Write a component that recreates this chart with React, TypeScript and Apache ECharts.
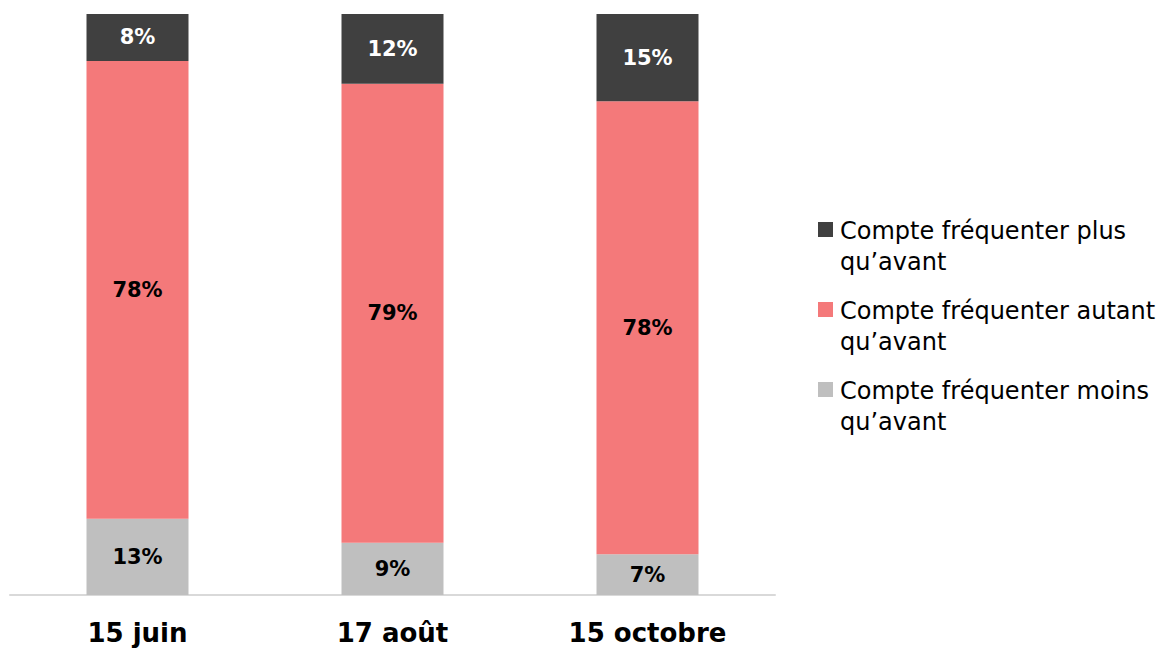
import React, { useEffect, useRef } from "react";
import * as echarts from "echarts";

const categories = ["15 juin", "17 août", "15 octobre"];
const seriesNames = [
  "Compte fréquenter moins qu’avant",
  "Compte fréquenter autant qu’avant",
  "Compte fréquenter plus qu’avant",
];
const moins = [13, 9, 7];
const autant = [78, 79, 78];
const plus = [8, 12, 15];
const colors = ["#BFBFBF", "#F4797A", "#404040"];
const labelColors = ["#000000", "#000000", "#FFFFFF"];
const legendLines = [
  ["Compte fréquenter plus", "qu’avant"],
  ["Compte fréquenter autant", "qu’avant"],
  ["Compte fréquenter moins", "qu’avant"],
];
const legendColors = ["#404040", "#F4797A", "#BFBFBF"];

const FONT = "DejaVu Sans";

export default function App() {
  const ref = useRef<HTMLDivElement>(null);
  useEffect(() => {
    if (!ref.current) return;
    const chart = echarts.init(ref.current, null, { renderer: "svg" });
    const raw = [moins, autant, plus];
    const totals = categories.map((_, i) => raw.reduce((s, arr) => s + arr[i], 0));
    const series = raw.map((arr, k) => ({
      name: seriesNames[k],
      type: "bar",
      stack: "total",
      barWidth: "40%",
      itemStyle: { color: colors[k] },
      data: arr.map((v, i) => ({ value: (v / totals[i]) * 100, raw: v })),
      label: {
        show: true,
        position: "inside",
        formatter: (p: any) => `${p.data.raw}%`,
        color: labelColors[k],
        fontFamily: FONT,
        fontWeight: "bold",
        fontSize: 21,
      },
    }));
    const graphic: any[] = [];
    legendLines.forEach((lines, i) => {
      const y0 = 222 + i * 80;
      graphic.push({
        type: "rect",
        left: 818,
        top: y0,
        shape: { width: 15, height: 15 },
        style: { fill: legendColors[i] },
      });
      graphic.push({
        type: "text",
        left: 840,
        top: y0 - 7,
        style: {
          text: lines.join("\n"),
          fill: "#000000",
          font: `24px '${FONT}'`,
          lineHeight: 31,
        },
      });
    });
    chart.setOption({
      animation: false,
      grid: { left: 10, right: 398, top: 14, bottom: 55, containLabel: false },
      xAxis: {
        type: "category",
        data: categories,
        axisLine: { show: true, lineStyle: { color: "#D9D9D9", width: 2 } },
        axisTick: { show: false },
        axisLabel: {
          color: "#000000",
          fontFamily: FONT,
          fontWeight: "bold",
          fontSize: 26,
          margin: 25,
        },
      },
      yAxis: {
        type: "value",
        min: 0,
        max: 100,
        show: false,
        splitLine: { show: false },
      },
      series,
      graphic,
    });
    return () => chart.dispose();
  }, []);
  return <div ref={ref} style={{ width: 1173, height: 650, position: "absolute", left: 0, top: 0 }} />;
}
